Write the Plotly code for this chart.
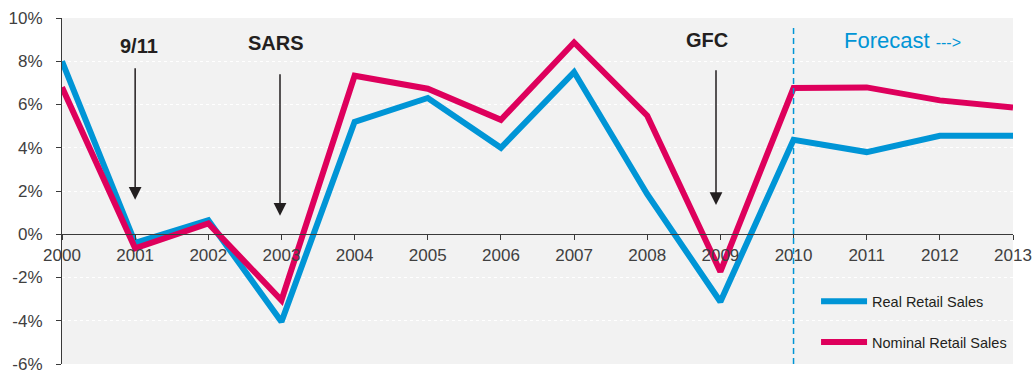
import plotly.graph_objects as go

# Annual retail sales growth (%), actuals to 2009 and forecast from 2010
years = [2000, 2001, 2002, 2003, 2004, 2005, 2006, 2007, 2008, 2009, 2010, 2011, 2012, 2013]
real_sales = [8.0, -0.4, 0.65, -4.05, 5.2, 6.3, 4.0, 7.5, 1.85, -3.12, 4.37, 3.8, 4.55, 4.55]
nominal_sales = [6.8, -0.65, 0.5, -3.05, 7.33, 6.73, 5.29, 8.87, 5.48, -1.73, 6.76, 6.79, 6.19, 5.86]

forecast_start = 2010

# Event callouts: label, label position (year, %), arrow from (year, %) to (year, %)
events = [
    ("9/11", 2001.05, 8.72, 2001.0, 7.75, 2001.0, 1.6),
    ("SARS", 2002.93, 8.86, 2002.98, 7.47, 2002.98, 0.85),
    ("GFC", 2008.82, 8.96, 2008.94, 7.65, 2008.94, 1.35),
]

y_ticks = [-6, -4, -2, 0, 2, 4, 6, 8, 10]
y_tick_text = [f"{v}%" for v in y_ticks]

BLUE = "#0095D6"
RED = "#DE005C"
INK = "#231F20"
FONT = "Arial, Liberation Sans, sans-serif"

fig = go.Figure()
fig.add_trace(go.Scatter(x=years, y=real_sales, mode="lines", name="Real Retail Sales",
                         line=dict(color=BLUE, width=6), legendgroup="real"))
fig.add_trace(go.Scatter(x=years, y=nominal_sales, mode="lines", name="Nominal Retail Sales",
                         line=dict(color=RED, width=6), legendgroup="nominal"))

annotations = []
for label, lx, ly, ax, ay, tx, ty in events:
    annotations.append(dict(x=lx, y=ly, xref="x", yref="y", text=label, showarrow=False,
                            font=dict(family=FONT, size=20, color=INK, weight="bold"),
                            xanchor="center", yanchor="middle"))
    annotations.append(dict(x=tx, y=ty, ax=ax, ay=ay, xref="x", yref="y", axref="x", ayref="y",
                            text="", showarrow=True, arrowhead=2, arrowsize=1.7,
                            arrowwidth=1.5, arrowcolor=INK, standoff=0, startstandoff=0))

annotations.append(dict(x=2010.66, y=8.96, xref="x", yref="y",
                        text="Forecast <span style='font-size:16px'>---&gt;</span>",
                        showarrow=False, xanchor="left", yanchor="middle",
                        font=dict(family=FONT, size=22, color=BLUE)))

fig.add_shape(type="line", xref="x", yref="paper", x0=forecast_start, x1=forecast_start,
              y0=0, y1=0.98, line=dict(color=BLUE, width=1.5, dash="6px,4px"))

fig.update_layout(
    width=1035, height=372,
    margin=dict(l=62, r=22, t=18, b=8, autoexpand=False),
    paper_bgcolor="white",
    plot_bgcolor="#F2F2F2",
    font=dict(family=FONT, size=17, color="#404040"),
    annotations=annotations,
    showlegend=True,
    legend=dict(x=0.7929, y=0.2274, xanchor="left", yanchor="top",
                bgcolor="rgba(0,0,0,0)", font=dict(family=FONT, size=14.5, color=INK),
                itemwidth=46, tracegroupgap=19, traceorder="grouped"),
    xaxis=dict(range=[2000, 2013], tickmode="array", tickvals=years,
               ticktext=[str(y) for y in years],
               showgrid=False, zeroline=False, automargin=False,
               showline=True, linecolor="#3A3A3A", linewidth=1,
               ticks="outside", ticklen=5, tickcolor="#3A3A3A",
               anchor="free", position=6 / 16, ticklabeloverflow="allow",
               tickfont=dict(size=17, color="#404040")),
    yaxis=dict(range=[-6, 10], tickmode="array", tickvals=y_ticks, ticktext=y_tick_text,
               showgrid=True, gridcolor="white", griddash="dot", gridwidth=1,
               zeroline=False, showline=True, linecolor="#3A3A3A", linewidth=1,
               ticks="outside", ticklen=5, tickcolor="#3A3A3A", automargin=False,
               ticklabelstandoff=10, ticklabeloverflow="allow",
               tickfont=dict(size=17, color="#404040")),
)

fig.write_html("out.html")
